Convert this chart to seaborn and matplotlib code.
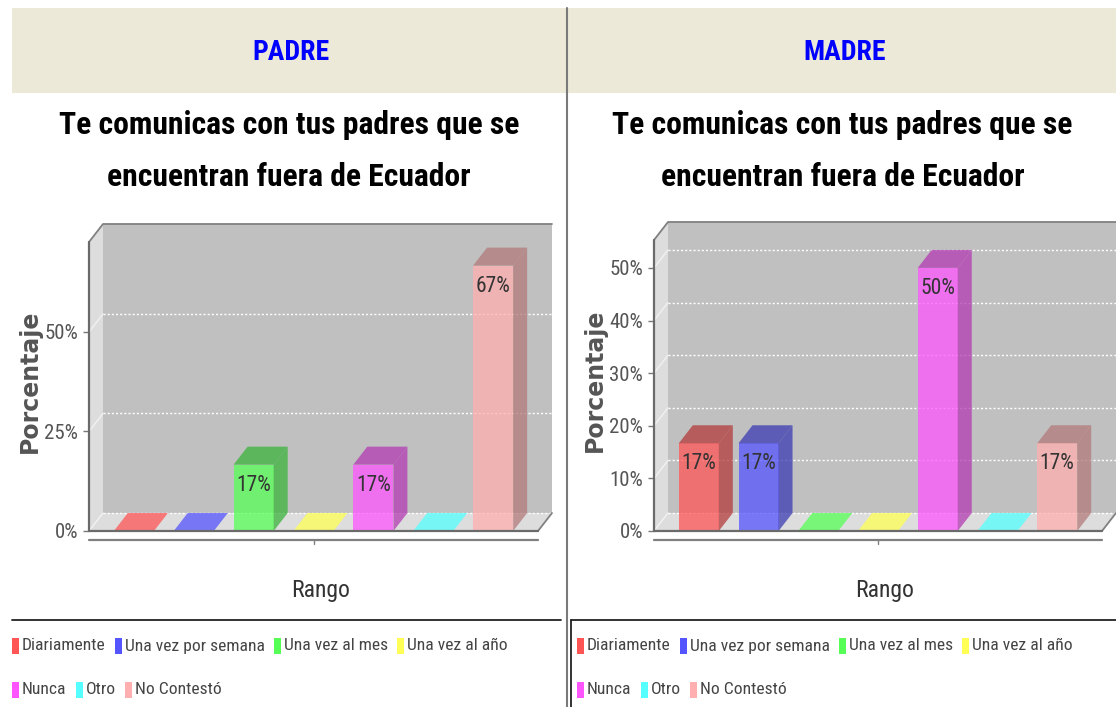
import matplotlib
matplotlib.use('Agg')
import matplotlib.pyplot as plt
from matplotlib import font_manager
from matplotlib.patches import Polygon, Rectangle
from matplotlib.lines import Line2D
import numpy as np
import pandas as pd
import seaborn as sns

# datos
categorias = ['Diariamente', 'Una vez por semana', 'Una vez al mes', 'Una vez al año',
              'Nunca', 'Otro', 'No Contestó']
padre_pct = [0, 0, 16.67, 0, 16.67, 0, 66.67]
madre_pct = [16.67, 16.67, 0, 0, 50.0, 0, 16.67]
padre_ticks = [0, 25, 50]
madre_ticks = [0, 10, 20, 30, 40, 50]
colores = ['#FF5555', '#5555FF', '#55FF55', '#FFFF55', '#FF55FF', '#55FFFF', '#FFAFAF']
titulo = ['Te comunicas con tus padres que se', 'encuentran fuera de Ecuador']

W, H = 1116, 707
DX, DY = 14, 18  # profundidad 3D (pixeles)

sns.set_theme(style='white')
names = {f.name for f in font_manager.fontManager.ttflist}
narrow = next((n for n in ['Roboto Condensed', 'Liberation Sans Narrow', 'Open Sans Condensed']
               if n in names), 'DejaVu Sans')
plt.rcParams['font.family'] = [narrow, 'DejaVu Sans']
plt.rcParams['font.stretch'] = 'condensed'

fig = plt.figure(figsize=(W / 100, H / 100), dpi=100)
fig.patch.set_facecolor('white')


def fx(x):
    return x / W


def fy(y):
    return 1 - y / H


def dibujar_panel(nombre, valores, ticks, ymax, left, right, top, bottom, px0, px1):
    # cabecera y titulo
    fig.text(fx((px0 + px1) / 2 + 2), fy(52), nombre, ha='center', va='center',
             fontsize=20, fontweight='bold', color='#0000FF')
    fig.text(fx((px0 + px1) / 2), fy(125), titulo[0], ha='center', va='center',
             fontsize=22.8, fontweight='bold', color='black')
    fig.text(fx((px0 + px1) / 2), fy(177), titulo[1], ha='center', va='center',
             fontsize=22.8, fontweight='bold', color='black')

    ax = fig.add_axes([fx(left), fy(bottom), (right - left) / W, (bottom - top) / H])
    ax.set_facecolor('none')
    df = pd.DataFrame({'Rango': categorias, 'Porcentaje': valores})
    sns.barplot(data=df, x='Rango', y='Porcentaje', hue='Rango', palette=colores,
                saturation=1, width=0.67, legend=False, ax=ax, alpha=0.75,
                linewidth=0, zorder=3)
    xmin, xmax = -0.75, len(categorias) - 0.25
    ax.set_xlim(xmin, xmax)
    ax.set_ylim(0, ymax)
    for s in ax.spines.values():
        s.set_visible(False)
    ax.set_xticks([])
    ax.set_xlabel('')
    ax.set_ylabel('')
    ax.set_yticks(ticks, labels=[f'{t}%' for t in ticks])
    ax.tick_params(axis='y', left=True, length=4, width=1, color='#777', pad=4,
                   labelsize=15, labelcolor='#555')

    wpx = right - left
    hpx = bottom - top
    ox = DX * (xmax - xmin) / wpx
    oy = DY * ymax / hpx

    barras = list(ax.patches)

    # paredes 3D
    kw = dict(clip_on=False, ec='none')
    ax.add_patch(Rectangle((xmin + ox, oy), xmax - xmin, ymax, fc='#C0C0C0', zorder=0, **kw))
    ax.add_patch(Polygon([(xmin, 0), (xmin, ymax), (xmin + ox, ymax + oy), (xmin + ox, oy)],
                         fc='#DDDDDD', zorder=0.5, **kw))
    ax.add_patch(Polygon([(xmin, 0), (xmax, 0), (xmax + ox, oy), (xmin + ox, oy)],
                         fc='#DDDDDD', zorder=0.5, **kw))
    for t in ticks:
        ax.plot([xmin + ox, xmax + ox], [t + oy, t + oy], color='white', lw=1,
                ls=(0, (1.5, 1.5)), zorder=1, clip_on=False)
        ax.plot([xmin, xmin + ox], [t, t + oy], color='white', lw=1, alpha=0.6,
                zorder=1, clip_on=False)
    lk = dict(color='#808080', lw=1.3, zorder=1, clip_on=False)
    ax.plot([xmin, xmin + ox, xmax + ox], [ymax, ymax + oy, ymax + oy], **lk)
    ax.plot([xmax, xmax + ox], [0, oy], **lk)
    ax.plot([xmin, xmin], [0, ymax], color='#6a6a6a', lw=1.6, zorder=5, clip_on=False)
    ax.plot([xmin, xmax], [0, 0], color='#6a6a6a', lw=1.6, zorder=5, clip_on=False)
    # eje de categorias debajo
    yb = -9 * ymax / hpx
    ax.plot([xmin, xmax], [yb, yb], color='#808080', lw=1.6, clip_on=False)
    xc = (xmin + xmax) / 2
    ax.plot([xc, xc], [yb, yb - 4 * ymax / hpx], color='#808080', lw=1, clip_on=False)

    # caras superior y lateral de cada barra
    for p in barras:
        x, w, h = p.get_x(), p.get_width(), p.get_height()
        base = np.array(p.get_facecolor()[:3])
        dark = base * 0.7
        ax.add_patch(Polygon([(x, h), (x + w, h), (x + w + ox, h + oy), (x + ox, h + oy)],
                             fc=dark if h > 0 else base, alpha=0.75, zorder=3, **kw))
        if h > 0:
            ax.add_patch(Polygon([(x + w, 0), (x + w, h), (x + w + ox, h + oy), (x + w + ox, oy)],
                                 fc=dark, alpha=0.75, zorder=3, **kw))
            ax.annotate(f'{h:.0f}%', (x + w / 2, h), xytext=(0, -10),
                        textcoords='offset pixels', ha='center', va='top',
                        fontsize=15.5, color='#333333', zorder=6)

    fig.text(fx(left - 59), fy((top + bottom) / 2 - 5), 'Porcentaje', rotation=90,
             ha='center', va='center', family='DejaVu Sans', fontstretch='normal',
             fontweight='bold', fontsize=17, color='#555555')
    fig.text(fx((left + right + DX) / 2), fy(590), 'Rango', ha='center', va='center',
             fontsize=17, color='#333333')
    return ax


# fondo de cabecera
fig.patches.append(Rectangle((fx(12), fy(93)), (W - 12) / W, 85 / H,
                             transform=fig.transFigure, fc='#ECE9D8', ec='none', zorder=0))

dibujar_panel('PADRE', padre_pct, padre_ticks, 72.6, 89, 538, 242, 531, 12, 566)
dibujar_panel('MADRE', madre_pct, madre_ticks, 55.3, 654, 1102, 240, 531, 569, 1116)

# separadores y cajas de leyenda
fig.add_artist(Line2D([fx(567), fx(567)], [fy(8), fy(H)], color='#7a7a7a', lw=1.5))
fig.add_artist(Line2D([fx(12), fx(561)], [fy(620), fy(620)], color='#222222', lw=1.3))
fig.add_artist(Line2D([fx(571), 1], [fy(620), fy(620)], color='#222222', lw=1.3))
fig.add_artist(Line2D([fx(571), fx(571)], [fy(620), fy(H)], color='#222222', lw=1.3))

renderer = fig.canvas.get_renderer()


def leyenda(x_start):
    filas = [categorias[:4], categorias[4:]]
    for fila, y in zip(filas, [646, 690]):
        x = x_start
        for cat in fila:
            c = colores[categorias.index(cat)]
            fig.patches.append(Rectangle((fx(x), fy(y + 8)), 7 / W, 16 / H,
                                         transform=fig.transFigure, fc=c, ec='none'))
            t = fig.text(fx(x + 10), fy(y), cat, ha='left', va='center',
                         fontsize=12.6, color='#444444')
            x += 10 + t.get_window_extent(renderer).width + 9


leyenda(12)
leyenda(577)

fig.savefig('out.png', dpi=100)
